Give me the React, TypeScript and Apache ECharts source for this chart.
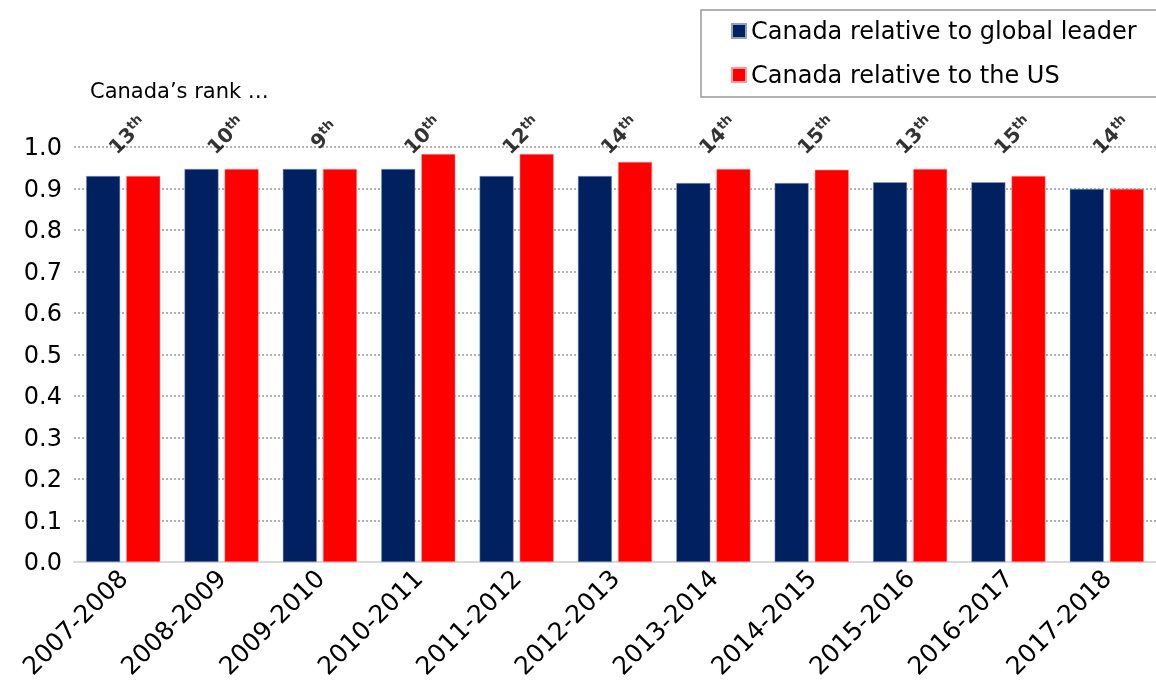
import React, { useEffect, useRef } from "react";
import * as echarts from "echarts";

const categories = ["2007-2008","2008-2009","2009-2010","2010-2011","2011-2012","2012-2013","2013-2014","2014-2015","2015-2016","2016-2017","2017-2018"];
const globalLeader = [0.93,0.947,0.947,0.947,0.93,0.93,0.913,0.913,0.915,0.915,0.899];
const relativeUS = [0.93,0.947,0.947,0.983,0.983,0.964,0.947,0.945,0.947,0.93,0.899];
const ranks = [13,10,9,10,12,14,14,15,13,15,14];
const rankLabelLevel = 1.012;
const yTicks = [0, 1, 0.1];

const FONT = "DejaVu Sans";

export default function App() {
  const ref = useRef<HTMLDivElement>(null);
  useEffect(() => {
    const chart = echarts.init(ref.current!, null, { renderer: "svg" });
    chart.setOption({
      animation: false,
      textStyle: { fontFamily: FONT, color: "#000" },
      title: {
        text: "Canada\u2019s rank \u2026",
        left: 85,
        top: 75,
        textStyle: { fontFamily: FONT, fontSize: 21, fontWeight: "normal", color: "#000" },
      },
      legend: {
        orient: "vertical",
        left: 701,
        top: 10,
        padding: [9, 30, 10, 30],
        itemGap: 20,
        itemWidth: 14,
        itemHeight: 14,
        borderColor: "#999",
        borderWidth: 1.5,
        icon: "rect",
        textStyle: { fontFamily: FONT, fontSize: 24, color: "#000" },
        data: ["Canada relative to global leader", "Canada relative to the US"],
      },
      grid: { left: 74, right: 0, top: 147, bottom: 132, containLabel: false },
      xAxis: {
        type: "category",
        data: categories,
        axisLine: { lineStyle: { color: "#d9d9d9", width: 2 } },
        axisTick: { show: false },
        axisLabel: { interval: 0, rotate: 45, fontSize: 25, color: "#000", fontFamily: FONT, margin: 12 },
      },
      yAxis: {
        type: "value",
        min: yTicks[0],
        max: yTicks[1],
        interval: yTicks[2],
        axisLine: { show: false },
        axisTick: { show: false },
        axisLabel: {
          fontSize: 24,
          color: "#000",
          fontFamily: FONT,
          margin: 12,
          formatter: (v: number) => v.toFixed(1),
        },
        splitLine: { lineStyle: { color: "#999", type: [2, 2], width: 1.5 } },
      },
      series: [
        {
          name: "Canada relative to global leader",
          type: "bar",
          data: globalLeader,
          barWidth: 34,
          barGap: "18%",
          itemStyle: { color: "#002060", borderColor: "#8ea0c8", borderWidth: 0.5 },
        },
        {
          name: "Canada relative to the US",
          type: "bar",
          data: relativeUS,
          barWidth: 34,
          barGap: "18%",
          itemStyle: { color: "#ff0000", borderColor: "#ff9999", borderWidth: 0.5 },
        },
        {
          name: "rank",
          type: "scatter",
          symbolSize: 1,
          clip: false,
          itemStyle: { color: "rgba(0,0,0,0)" },
          data: ranks.map(() => rankLabelLevel),
          silent: true,
          z: 5,
          label: {
            show: true,
            position: "inside",
            offset: [8, -2],
            rotate: 45,
            color: "#000",
            textBorderWidth: 0,
            formatter: (p: any) => `{n|${ranks[p.dataIndex]}}{s|th}`,
            rich: {
              n: { fontSize: 20, fontWeight: "bold", color: "#000", fontFamily: FONT, textBorderWidth: 0 },
              s: { fontSize: 13, fontWeight: "bold", color: "#000", fontFamily: FONT, verticalAlign: "top", padding: [0, 0, 9, 0], textBorderWidth: 0 },
            },
          },
        },
      ],
    });
    return () => chart.dispose();
  }, []);
  return <div ref={ref} style={{ position: "fixed", left: 0, top: 0, width: 1156, height: 694 }} />;
}
